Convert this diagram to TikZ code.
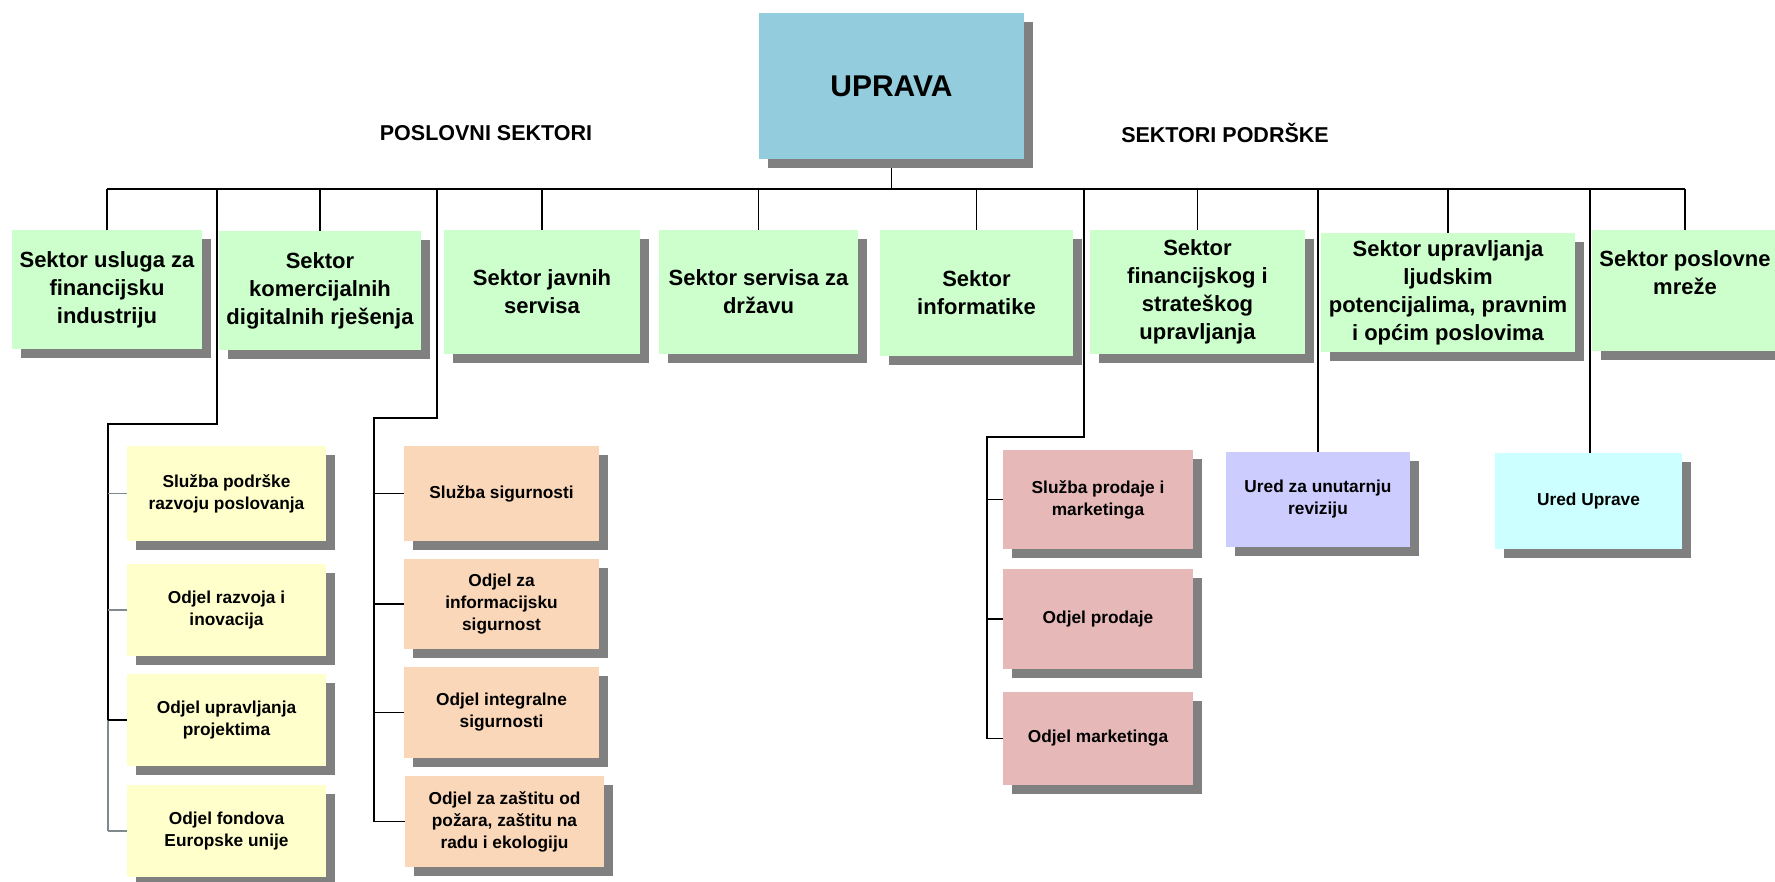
\documentclass[tikz,border=0pt]{standalone}
\usepackage{fontspec}
\setmainfont{Liberation Sans}
\usetikzlibrary{shadows}
\definecolor{cgreen}{HTML}{CCFFCC}
\definecolor{cyellow}{HTML}{FFFFCC}
\definecolor{corange}{HTML}{FAD7B9}
\definecolor{cpink}{HTML}{E6B9B8}
\definecolor{clav}{HTML}{CCCCFF}
\definecolor{ccyan}{HTML}{CCFFFF}
\definecolor{cuprava}{HTML}{93CDDD}
\definecolor{shadowgray}{HTML}{808080}
\definecolor{linegray}{HTML}{7F8A8C}
\pgfdeclarelayer{back}
\pgfdeclarelayer{bg}
\pgfsetlayers{back,bg,main}
\tikzset{
  box/.style={inner sep=2pt, align=center, text=black,
    drop shadow={shadow xshift=9pt, shadow yshift=-9pt, fill=shadowgray, opacity=1}},
  topfont/.style={font=\bfseries\fontsize{22}{28}\selectfont},
  subfont/.style={font=\bfseries\fontsize{17.3}{22}\selectfont},
  hdr/.style={font=\bfseries\fontsize{21.5}{24}\selectfont, inner sep=0pt},
  conn/.style={line width=1.3pt, black},
  bus/.style={line width=2pt, black},
  gconn/.style={line width=1.3pt, linegray},
}
% name, x1, y1, x2, y2, colour, font style, text
\newcommand\mybox[8]{%
  \node[box, fill=#6, #7, minimum width={(#4-#2)*1pt}, minimum height={(#5-#3)*1pt}]
    (#1) at ({(#2+#4)/2},{(#3+#5)/2}) {#8};}
\begin{document}
\begin{tikzpicture}[x=1pt,y=-1pt]
\useasboundingbox (0,0) rectangle (1775,882);
\clip (0,0) rectangle (1775,882);
\begin{pgfonlayer}{back}
\fill[white] (0,0) rectangle (1775,882);
\end{pgfonlayer}

% top
\node[box, fill=cuprava, font=\bfseries\fontsize{30}{34}\selectfont,
  minimum width=265pt, minimum height=146pt] (U) at (891.5,86) {UPRAVA};

\node[hdr] (h1) at (486,133) {POSLOVNI SEKTORI};
\node[hdr] (h2) at (1225,133) {SEKTORI PODRŠKE};

% sectors
\mybox{s1}{12}{230}{202}{349}{cgreen}{topfont}{Sektor usluga za\\financijsku\\industriju}
\mybox{s2}{219}{231}{421}{350}{cgreen}{topfont}{Sektor\\komercijalnih\\digitalnih rješenja}
\mybox{s3}{444}{230}{640}{354}{cgreen}{topfont}{Sektor javnih\\servisa}
\mybox{s4}{659}{230}{858}{354}{cgreen}{topfont}{Sektor servisa za\\državu}
\mybox{s5}{880}{230}{1073}{356}{cgreen}{topfont}{Sektor\\informatike}
\mybox{s6}{1090}{230}{1305}{354}{cgreen}{topfont}{Sektor\\financijskog i\\strateškog\\upravljanja}
\mybox{s7}{1321}{233}{1575}{352}{cgreen}{topfont}{Sektor upravljanja\\ljudskim\\potencijalima, pravnim\\i općim poslovima}
\mybox{s8}{1592}{230}{1778}{351}{cgreen}{topfont}{Sektor poslovne\\mreže\\[8pt]}

% yellow group
\mybox{y1}{127}{446}{326}{541}{cyellow}{subfont}{Služba podrške\\razvoju poslovanja}
\mybox{y2}{127}{564}{326}{656}{cyellow}{subfont}{Odjel razvoja i\\inovacija}
\mybox{y3}{127}{674}{326}{766}{cyellow}{subfont}{Odjel upravljanja\\projektima}
\mybox{y4}{127}{785}{326}{877}{cyellow}{subfont}{Odjel fondova\\Europske unije}

% orange group
\mybox{o1}{404}{446}{599}{541}{corange}{subfont}{Služba sigurnosti}
\mybox{o2}{404}{559}{599}{649}{corange}{subfont}{Odjel za\\informacijsku\\sigurnost}
\mybox{o3}{404}{667}{599}{758}{corange}{subfont}{Odjel integralne\\sigurnosti}
\mybox{o4}{405}{776}{604}{867}{corange}{subfont}{Odjel za zaštitu od\\požara, zaštitu na\\radu i ekologiju}

% pink group
\mybox{p1}{1003}{450}{1193}{549}{cpink}{subfont}{Služba prodaje i\\marketinga}
\mybox{p2}{1003}{569}{1193}{669}{cpink}{subfont}{Odjel prodaje}
\mybox{p3}{1003}{692}{1193}{785}{cpink}{subfont}{Odjel marketinga}

% offices
\mybox{r1}{1226}{452}{1410}{547}{clav}{subfont}{Ured za unutarnju\\reviziju}
\mybox{r2}{1495}{453}{1682}{549}{ccyan}{subfont}{Ured Uprave}

% junction coordinates
\coordinate (busL) at (107,189);
\coordinate (busR) at (1685,189);
\coordinate (yb) at (217,189);
\coordinate (yk) at (217,424);
\coordinate (yv) at (108,424);
\coordinate (ob) at (437,189);
\coordinate (ok) at (437,418);
\coordinate (ov) at (374,418);
\coordinate (pb) at (1084,189);
\coordinate (pk) at (1084,437);
\coordinate (pv) at (987,437);
\coordinate (rb1) at (1318,189);
\coordinate (rb2) at (1590,189);

\begin{pgfonlayer}{bg}
\draw[bus] (busL) -- (busR);
\draw[conn] (U.south) -- (U.south |- busL);
\foreach \s in {s1,s2,s3,s4,s5,s6,s7,s8}
  \draw[conn] (\s.north) -- (\s.north |- busL);
% yellow branch
\draw[conn] (yb) -- (yk) -- (yv) -- (yv |- y3.west);
\draw[gconn] (yv |- y3.west) -- (yv |- y4.west);
\draw[gconn] (y1.west) -- (y1.west -| yv);
\draw[gconn] (y2.west) -- (y2.west -| yv);
\draw[conn] (y3.west) -- (y3.west -| yv);
\draw[gconn] (y4.west) -- (y4.west -| yv);
% orange branch
\draw[conn] (ob) -- (ok) -- (ov) -- (ov |- o4.west);
\foreach \b in {o1,o2,o3,o4}
  \draw[conn] (\b.west) -- (\b.west -| ov);
% pink branch
\draw[conn] (pb) -- (pk) -- (pv) -- (pv |- p3.west);
\foreach \b in {p1,p2,p3}
  \draw[conn] (\b.west) -- (\b.west -| pv);
% offices
\draw[conn] (rb1) -- (rb1 |- r1.north);
\draw[conn] (rb2) -- (rb2 |- r2.north);
\end{pgfonlayer}
\end{tikzpicture}
\end{document}
